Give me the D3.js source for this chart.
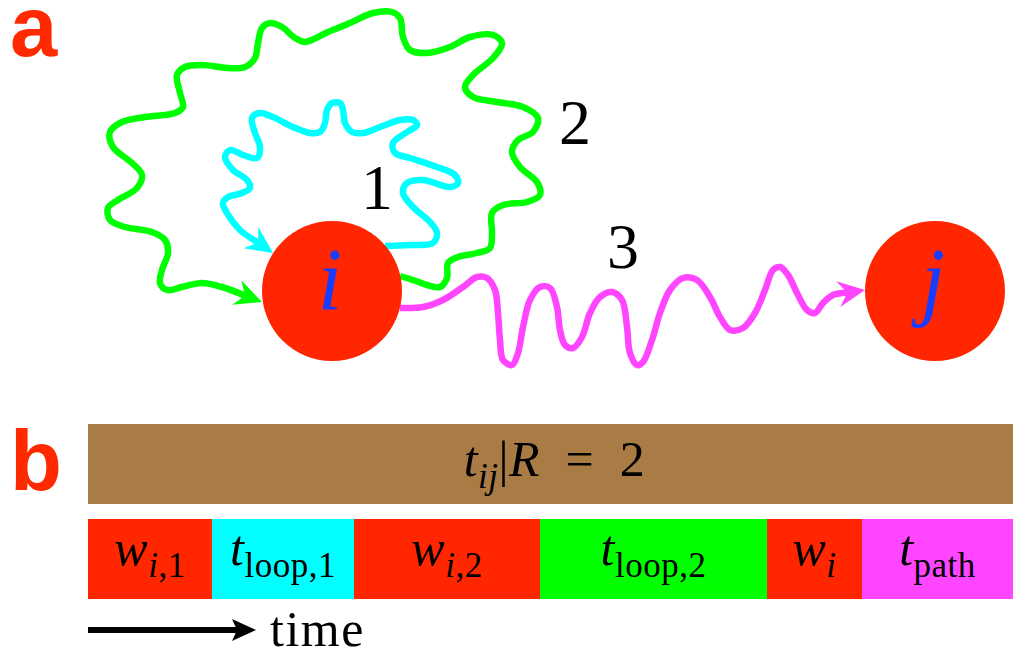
<!DOCTYPE html>
<html>
<head>
<meta charset="utf-8">
<script src="https://cdn.jsdelivr.net/npm/d3@7"></script>
<style>
  html, body { margin: 0; padding: 0; background: #fff; }
  svg { display: block; }
</style>
</head>
<body>
<svg id="fig" width="1013" height="656"></svg>
<script>
// ---- Panel a: nodes and the three walks -------------------------------
const nodeNames = ["i", "j"];
const nodeCenters = [[332, 291], [935, 291]];
const nodeRadius = 70;

// Walk 2: long loop from i back to i
const loop2Path = [[400,276],[413,280],[427,285],[440,287],[447,278],[448,263],[458,257],[477,253],[490,248],[492,233],[492,213],[503,205],[527,202],[540,195],[537,182],[520,167],[512,152],[518,140],[533,132],[538,118],[523,107],[497,102],[473,97],[465,87],[473,75],[493,58],[502,43],[493,35],[470,37],[450,47],[427,53],[410,50],[403,37],[400,18],[392,12],[373,13],[350,23],[328,32],[305,42],[295,38],[282,27],[270,23],[262,28],[258,43],[255,58],[245,67],[228,68],[202,65],[185,67],[177,75],[180,93],[183,107],[175,113],[145,117],[122,122],[110,132],[113,147],[132,163],[142,175],[137,188],[118,200],[108,208],[110,220],[125,227],[152,232],[165,240],[168,253],[162,270],[160,283],[167,290],[182,287],[202,283],[222,287],[242,293],[262,302]];

// Walk 1: short loop from i back to i
const loop1Path = [[385,246],[410,245],[433,243],[437,233],[430,222],[413,207],[403,193],[407,183],[423,180],[450,187],[458,183],[455,175],[437,167],[410,158],[395,153],[393,143],[407,132],[417,125],[413,120],[400,120],[380,127],[363,133],[352,132],[345,123],[343,110],[340,103],[332,103],[327,110],[325,123],[320,132],[310,133],[293,127],[273,117],[260,113],[252,118],[255,133],[260,147],[257,158],[243,155],[230,150],[225,157],[233,170],[247,180],[250,188],[242,193],[228,197],[223,203],[227,213],[240,230],[257,242],[273,253]];

// Walk 3: path from i to j
const pathIJ = [[400,308],[423,307],[443,300],[463,287],[477,277],[487,278],[495,290],[498,313],[500,340],[503,360],[512,365],[518,353],[523,327],[530,300],[540,287],[550,288],[557,307],[560,330],[565,345],[573,348],[582,337],[590,313],[600,297],[612,292],[622,300],[627,327],[630,353],[637,365],[643,362],[652,340],[660,313],[670,290],[683,278],[697,280],[710,297],[720,317],[730,330],[743,328],[755,313],[765,290],[773,270],[780,267],[788,275],[797,293],[807,310],[815,313],[823,303],[833,295],[843,293],[865,290]];

const walkLabels = ["1", "2", "3"];
const walkLabelPos = [[377, 209], [575, 144], [623, 268]];

// ---- Panel b: time line ------------------------------------------------
const totalLabel = [{t:"t", it:true}, {t:"ij", it:true, sub:true}, {t:"|"}, {t:"R", it:true}, {t:"\u2002=\u20022"}];
const stageDurations = [124, 142, 186, 227, 95, 151];
const stageKinds = ["wait", "loop1", "wait", "loop2", "wait", "path"];
const stageLabels = [
  [{t:"w", it:true}, {t:"i", it:true, sub:true}, {t:",1", sub:true}],
  [{t:"t", it:true}, {t:"loop,1", sub:true}],
  [{t:"w", it:true}, {t:"i", it:true, sub:true}, {t:",2", sub:true}],
  [{t:"t", it:true}, {t:"loop,2", sub:true}],
  [{t:"w", it:true}, {t:"i", it:true, sub:true}],
  [{t:"t", it:true}, {t:"path", sub:true}]
];

const palette = {
  wait: "#ff2600", loop1: "#00ffff", loop2: "#00ff00", path: "#ff45ff",
  total: "#a97b45", letter: "#1a3cff", panel: "#ff2a00"
};
const serif = "'Liberation Serif', 'Times New Roman', serif";
const sans = "'Liberation Sans', Arial, sans-serif";

const svg = d3.select("#fig");

// Write a formula-like label with italic letters and lowered subscripts
function mathText(parent, x, y, runs, size, fill) {
  const text = parent.append("text")
    .attr("x", x).attr("y", y)
    .attr("text-anchor", "middle")
    .attr("font-family", serif)
    .attr("font-size", size)
    .attr("letter-spacing", 0.5)
    .attr("fill", fill || "#000");
  const drop = size * 0.24;
  let lowered = false;
  runs.forEach(r => {
    const sub = !!r.sub;
    const span = text.append("tspan")
      .attr("font-style", r.it ? "italic" : "normal")
      .attr("font-size", sub ? size * 0.7 : size)
      .text(r.t);
    if (sub && !lowered) span.attr("dy", drop);
    if (!sub && lowered) span.attr("dy", -drop);
    lowered = sub;
  });
  return text;
}

// ---- draw panel a ------------------------------------------------------
const line = d3.line().curve(d3.curveCatmullRom.alpha(0.5));
const headLen = 27, headHalf = 13, headNotch = 9;

function walk(points, color, width) {
  const tip = points[points.length - 1];
  const dist = p => Math.hypot(tip[0] - p[0], tip[1] - p[1]);
  let k = points.length - 2;
  while (k > 0 && dist(points[k]) < headLen) k--;
  const from = points[k];
  const L = dist(from);
  const d = [(tip[0] - from[0]) / L, (tip[1] - from[1]) / L];
  const n = [-d[1], d[0]];
  const base = [tip[0] - d[0] * headLen, tip[1] - d[1] * headLen];
  const notch = [base[0] + d[0] * headNotch, base[1] + d[1] * headNotch];
  const body = points.slice(0, k + 1).concat([notch]);
  svg.append("path")
    .attr("d", line(body))
    .attr("fill", "none")
    .attr("stroke", color)
    .attr("stroke-width", width)
    .attr("stroke-linejoin", "round");
  return [tip,
          [base[0] + n[0] * headHalf, base[1] + n[1] * headHalf],
          notch,
          [base[0] - n[0] * headHalf, base[1] - n[1] * headHalf]];
}

const heads = [
  {pts: walk(loop2Path, palette.loop2, 6.5), color: palette.loop2},
  {pts: walk(loop1Path, palette.loop1, 6.5), color: palette.loop1},
  {pts: walk(pathIJ, palette.path, 6.5), color: palette.path}
];

svg.selectAll("circle.node")
  .data(nodeCenters)
  .join("circle")
  .attr("class", "node")
  .attr("cx", d => d[0]).attr("cy", d => d[1])
  .attr("r", nodeRadius)
  .attr("fill", palette.wait);

svg.selectAll("path.head")
  .data(heads)
  .join("path")
  .attr("class", "head")
  .attr("d", d => "M" + d.pts.map(p => p.join(",")).join("L") + "Z")
  .attr("fill", d => d.color);

svg.selectAll("text.nodename")
  .data(nodeNames)
  .join("text")
  .attr("class", "nodename")
  .attr("x", (d, k) => nodeCenters[k][0] - 2)
  .attr("y", (d, k) => nodeCenters[k][1] + 18)
  .attr("text-anchor", "middle")
  .attr("font-family", serif)
  .attr("font-style", "italic")
  .attr("font-size", 88)
  .attr("fill", palette.letter)
  .text(d => d);

svg.selectAll("text.walklabel")
  .data(walkLabels)
  .join("text")
  .attr("class", "walklabel")
  .attr("x", (d, k) => walkLabelPos[k][0])
  .attr("y", (d, k) => walkLabelPos[k][1])
  .attr("text-anchor", "middle")
  .attr("font-family", serif)
  .attr("font-size", 64)
  .attr("fill", "#000")
  .text(d => d);

// ---- draw panel b ------------------------------------------------------
const total = d3.sum(stageDurations);
const x = d3.scaleLinear().domain([0, total]).range([88, 1013]);
const starts = d3.cumsum([0].concat(stageDurations)).slice(0, stageDurations.length);

svg.append("rect")
  .attr("x", x(0)).attr("y", 424)
  .attr("width", x(total) - x(0)).attr("height", 80)
  .attr("fill", palette.total);
mathText(svg, (x(0) + x(total)) / 2 + 4, 476, totalLabel, 50);

const stages = svg.selectAll("g.stage")
  .data(stageDurations)
  .join("g")
  .attr("class", "stage");
stages.append("rect")
  .attr("x", (d, k) => x(starts[k]))
  .attr("y", 519)
  .attr("width", d => x(d) - x(0))
  .attr("height", 80)
  .attr("fill", (d, k) => palette[stageKinds[k]]);
stages.each(function(d, k) {
  mathText(d3.select(this), x(starts[k] + d / 2), 565, stageLabels[k], 50);
});

// time arrow
svg.append("line")
  .attr("x1", 88).attr("y1", 630).attr("x2", 238).attr("y2", 630)
  .attr("stroke", "#000").attr("stroke-width", 6);
svg.append("path")
  .attr("d", "M256,630L232,619L237,630L232,641Z")
  .attr("fill", "#000");
svg.append("text")
  .attr("x", 270).attr("y", 646)
  .attr("font-family", serif)
  .attr("font-size", 50)
  .attr("letter-spacing", 1.5)
  .text("time");

// panel letters
svg.append("text").attr("x", 10).attr("y", 56)
  .attr("font-family", sans).attr("font-weight", "bold").attr("font-size", 85)
  .attr("fill", palette.panel).text("a");
svg.append("text").attr("x", 10).attr("y", 490)
  .attr("font-family", sans).attr("font-weight", "bold").attr("font-size", 85)
  .attr("fill", palette.panel).text("b");
</script>
</body>
</html>
